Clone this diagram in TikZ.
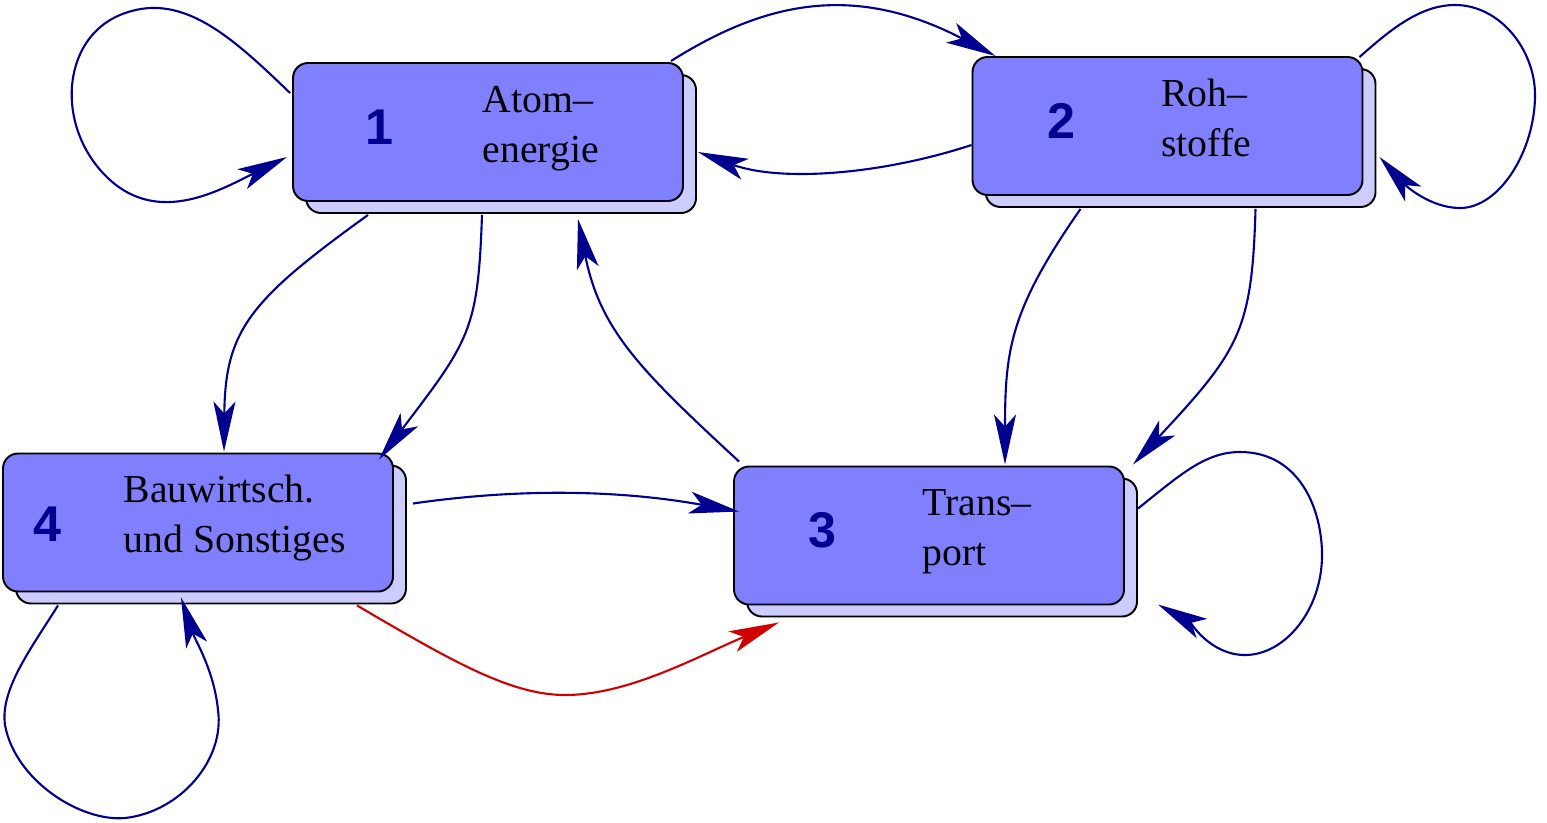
\documentclass[tikz,border=0pt]{standalone}
\usepackage{fontspec}
\setmainfont{Liberation Serif}
\newfontfamily\numfont{Liberation Sans}
\usetikzlibrary{arrows.meta,shadows,calc}
\definecolor{boxblue}{RGB}{128,128,255}
\definecolor{shadowblue}{RGB}{204,204,255}
\definecolor{navy}{RGB}{0,0,144}
\definecolor{darkred}{RGB}{208,0,0}
\tikzset{
  box/.style={draw=black, line width=0.55pt, fill=boxblue, rounded corners=1.5mm,
    minimum width=39mm, minimum height=13.8mm, inner sep=0pt,
    copy shadow={fill=shadowblue, draw=black, line width=0.55pt, shadow xshift=1.3mm, shadow yshift=-1.2mm}},
  num/.style={font=\numfont\bfseries\fontsize{14.3}{17}\selectfont, text=navy, inner sep=0pt},
  lbl/.style={font=\fontsize{11.3}{14}\selectfont, anchor=base west, inner sep=0pt},
  conn/.style={draw=navy, line width=0.6pt, -{Stealth[length=5mm,width=2.2mm,inset=1.2mm]}},
  redconn/.style={conn, draw=darkred},
}
\begin{document}
\begin{tikzpicture}[x=0.1mm,y=-0.1mm]
\useasboundingbox (0,0) rectangle (1547,822);
% boxes
\node[box] (n1) at (488,132) {};
\node[box] (n2) at (1167.5,126) {};
\node[box] (n3) at (929,535.5) {};
\node[box] (n4) at (198,522.5) {};
% numbers
\node[num] (n1num) at ($(n1.west)+(87,-5)$) {1};
\node[num] (n2num) at ($(n2.west)+(90,-5)$) {2};
\node[num] (n3num) at ($(n3.west)+(89,-5)$) {3};
\node[num] (n4num) at ($(n4.west)+(45,2)$) {4};
% labels
\node[lbl] (n1a) at ($(n1.north west)+(190,50)$) {Atom–};
\node[lbl] (n1b) at ($(n1.north west)+(190,100)$) {energie};
\node[lbl] (n2a) at ($(n2.north west)+(189,50)$) {Roh–};
\node[lbl] (n2b) at ($(n2.north west)+(189,100)$) {stoffe};
\node[lbl] (n3a) at ($(n3.north west)+(189,50)$) {Trans–};
\node[lbl] (n3b) at ($(n3.north west)+(189,100)$) {port};
\node[lbl] (n4a) at ($(n4.north west)+(121,50)$) {Bauwirtsch.};
\node[lbl] (n4b) at ($(n4.north west)+(121,100)$) {und Sonstiges};
% connectors
\draw[conn] ($(n1.west)+(-2,-39)$) .. controls (230,35) and (180,-10) .. (120,15)
  .. controls (60,40) and (55,130) .. (110,180)
  .. controls (160,225) and (220,190) .. ($(n1.west)+(-5,25)$);
\draw[conn] ($(n1.north east)+(-13,-1)$) .. controls (760,5) and (850,-20) .. ($(n2.north west)+(24,0)$);
\draw[conn] ($(n2.west)+(0,19)$) .. controls (880,175) and (780,182) .. ($(n1.east)+(14,20)$);
\draw[conn] ($(n2.north east)+(-4,1)$) .. controls (1390,30) and (1420,5) .. (1455,5)
  .. controls (1500,5) and (1535,50) .. (1535,95)
  .. controls (1535,150) and (1500,208) .. (1460,208)
  .. controls (1430,208) and (1405,185) .. ($(n2.east)+(16,31)$);
\draw[conn] ($(n1.south)+(-120,13)$) .. controls (250,300) and (225,330) .. ($(n4.north)+(26,-1)$);
\draw[conn] ($(n1.south)+(-6,13)$) .. controls (478,330) and (470,340) .. ($(n4.north east)+(-15,7)$);
\draw[conn] ($(n3.north west)+(6,-4)$) .. controls (640,370) and (600,330) .. ($(n1.south)+(90,17)$);
\draw[conn] ($(n2.south)+(-87,13)$) .. controls (1010,310) and (1005,350) .. ($(n3.north)+(76,-1)$);
\draw[conn] ($(n2.south)+(88,13)$) .. controls (1252,330) and (1240,350) .. ($(n3.north east)+(8,-1)$);
\draw[conn] ($(n3.east)+(13,-27)$) .. controls (1180,475) and (1205,452) .. (1240,452)
  .. controls (1300,452) and (1322,510) .. (1322,555)
  .. controls (1322,610) and (1285,655) .. (1245,655)
  .. controls (1210,655) and (1190,622) .. ($(n3.east)+(33,69)$);
\draw[conn] ($(n4.east)+(19,-19)$) .. controls (520,488) and (620,490) .. ($(n3.west)+(6,-24)$);
\draw[redconn] ($(n4.south)+(159,13)$) .. controls (450,660) and (510,695) .. (565,695)
  .. controls (630,695) and (700,655) .. ($(n3.south)+(-150,17)$);
\draw[conn] ($(n4.south)+(-140,13)$) .. controls (30,650) and (0,690) .. (5,725)
  .. controls (15,780) and (80,822) .. (125,818)
  .. controls (180,812) and (225,760) .. (218,710)
  .. controls (214,670) and (195,640) .. ($(n4.south)+(-17,5)$);
\end{tikzpicture}
\end{document}
